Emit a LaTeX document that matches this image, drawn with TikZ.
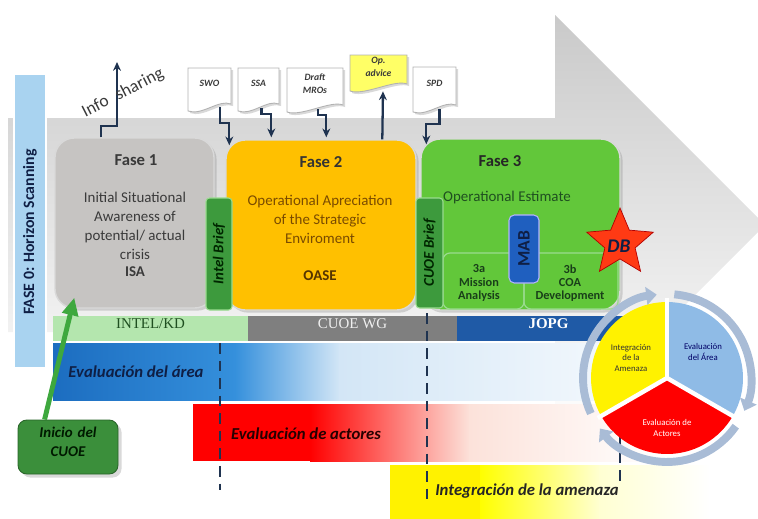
\documentclass[tikz,border=0pt]{standalone}
\usepackage{fontspec}
\setmainfont{Carlito}
\newfontfamily\serifx{Liberation Serif}
\usetikzlibrary{arrows.meta,shapes.geometric,shadows,calc,fit}
\definecolor{navyline}{HTML}{1F3350}
\definecolor{horizon}{HTML}{A9D3F0}
\definecolor{fone}{HTML}{C6C4C2}
\definecolor{ftwo}{HTML}{FFC000}
\definecolor{fthree}{HTML}{62C73A}
\definecolor{briefgreen}{HTML}{3D9A3D}
\definecolor{briefedge}{HTML}{9ADB8F}
\definecolor{mabblue}{HTML}{1F5FBF}
\definecolor{intelkd}{HTML}{B4E6AE}
\definecolor{cuoewg}{HTML}{7F7F7F}
\definecolor{jopg}{HTML}{1F5AA6}
\definecolor{areaA}{HTML}{1C6DC0}
\definecolor{areaB}{HTML}{3590DC}
\definecolor{areaC}{HTML}{D3E6F6}
\definecolor{redC}{HTML}{FCE2DA}
\definecolor{yelC}{HTML}{FFFFD2}
\definecolor{ringc}{HTML}{A9BCD6}
\definecolor{secblue}{HTML}{8FBBE6}
\definecolor{txtgray}{HTML}{3A3A3A}
\definecolor{txtbrown}{HTML}{7A4B00}
\definecolor{txtgreen}{HTML}{1F4F20}
\definecolor{darknavy}{HTML}{0F1F45}
\definecolor{iniciogreen}{HTML}{3B8F3B}
\definecolor{arrowgreen}{HTML}{3EA83E}
\definecolor{opyellow}{HTML}{FFFF66}
\definecolor{starred}{HTML}{FF3A14}
\newcommand\fsz[2]{\fontsize{#1}{#2}\selectfont}
\newcommand\docshape[7]{%
  \draw[docline, fill=#6] (#2,#3) -- (#4,#3) -- (#4,{#5-8}) .. controls ({#4-12},{#5-13}) and ({#2+14},{#5+4}) .. (#2,{#5-1}) -- cycle;
  \node[fit={(#2,#3) (#4,{#5-7})}, inner sep=0pt, align=center, text=txtgray, font=\bfseries\itshape\fsz{5.5}{7}] (#1) {#7};
}
\begin{document}
\begin{tikzpicture}[x=0.02cm,y=-0.02cm,
  conn/.style={draw=navyline, line width=1.3pt, -{Stealth[length=5pt,width=4.5pt]}},
  dashln/.style={draw=navyline, line width=1.3pt, dash pattern=on 6pt off 4pt},
  fasebox/.style={inner sep=0pt, rounded corners=11pt, draw=white!85!black, line width=0.8pt,
     drop shadow={shadow xshift=1.5pt, shadow yshift=-1.5pt, opacity=0.3}},
  brief/.style={inner sep=0pt, rounded corners=2pt, fill=briefgreen, draw=briefedge, line width=0.6pt},
  band/.style={inner sep=0pt},
  docline/.style={draw=gray!60, line width=0.5pt, drop shadow={shadow xshift=1.2pt, shadow yshift=-1.2pt, opacity=0.3}},
  ringarrow/.style={draw=ringc, line width=4.5pt, -{Triangle[length=6pt,width=10pt]}},
  lbl/.style={inner sep=0pt, align=center}
]
\useasboundingbox (0,0) rectangle (758,518);
\begin{scope}
\clip (0,0) rectangle (758,518);
% big grey arrow
\shade[top color=gray!42, middle color=gray!75, bottom color=white]
  (8,118) -- (555,118) -- (555,15) -- (765,225) -- (555,435) -- (555,332) -- (8,332) -- cycle;

% horizon scanning
\node[fit={(14,74) (46,368)}, inner sep=0pt, fill=horizon, draw=white, line width=0.6pt] (hor) {};
\node[rotate=90, font=\bfseries\fsz{9}{11}, text=darknavy] at (30,232) {FASE 0: Horizon Scanning};

% bands
\node[fit={(53,316) (248,341)}, band, fill=intelkd, font=\serifx\fsz{8.5}{10}, text=txtgreen] (ikd) {INTEL/KD};
\node[fit={(248,316) (457,341)}, band, fill=cuoewg, font=\serifx\fsz{8.5}{10}, text=gray!12] (cwg) {CUOE WG};
\node[fit={(457,316) (640,341)}, band, fill=jopg, font=\serifx\bfseries\fsz{8.5}{10}, text=white] (jopg) {JOPG};

% Evaluacion del area
\shade[left color=areaA, right color=areaB] (53,343) rectangle (236,400);
\shade[left color=areaB, right color=areaC] (235,343) rectangle (340,400);
\shade[left color=areaC, right color=white] (339,343) rectangle (720,400);
\node[fit={(53,343) (720,400)}, band] (area) {};
\node[font=\bfseries\itshape\fsz{9.5}{11}, text=darknavy] (areat) at (136,372) {Evaluación del área};

% Evaluacion de actores
\fill[red] (193,404) rectangle (311,461);
\shade[left color=red, right color=redC] (310,404) rectangle (470,461);
\shade[left color=redC, right color=white] (469,404) rectangle (660,461);
\node[fit={(193,404) (660,461)}, band] (act) {};
\node[font=\bfseries\itshape\fsz{9.5}{11}, text=black!85!red] (actt) at (306,434) {Evaluación de actores};

% Integracion de la amenaza
\fill[yellow] (390,465) rectangle (481,520);
\shade[left color=yellow, right color=yelC] (480,465) rectangle (600,520);
\shade[left color=yelC, right color=white] (599,465) rectangle (710,520);
\node[fit={(390,465) (710,518)}, band] (ame) {};
\node[font=\bfseries\itshape\fsz{9.5}{11}, text=black!85] (amet) at (527,491) {Integración de la amenaza};

% dashed lines
\coordinate (d1a) at (220,343); \coordinate (d1b) at (220,490);
\coordinate (d2a) at (427,313); \coordinate (d2b) at (427,506);
\coordinate (d3a) at (620,400); \coordinate (d3b) at (620,482);
\draw[dashln] (d1a) -- (d1b);
\draw[dashln] (d2a) -- (d2b);
\draw[dashln] (d3a) -- (d3b);

% Fase 1
\node[fit={(55,138) (214,308)}, fasebox, fill=fone] (f1) {};
\node[font=\bfseries\fsz{9.5}{11}, text=txtgray] (f1t) at (136,160) {Fase 1};
\node[lbl, font=\fsz{8.5}{10.8}, text=txtgray] (f1d) at (135,226) {Initial Situational\\Awareness of\\potential/ actual\\crisis};
\node[font=\bfseries\fsz{8.5}{10}, text=txtgray] (f1a) at (135,272) {ISA};

% Fase 2
\node[fit={(226,140) (416,310)}, fasebox, fill=ftwo] (f2) {};
\node[font=\bfseries\fsz{9.5}{11}, text=black!80] (f2t) at (321,162) {Fase 2};
\node[lbl, font=\fsz{8.5}{10.8}, text=txtbrown] (f2d) at (320,219) {Operational Apreciation\\of the Strategic\\Enviroment};
\node[font=\bfseries\fsz{8.5}{10}, text=txtbrown!70!black] (f2a) at (320,276) {OASE};

% Fase 3
\node[fit={(421,139) (620,310)}, fasebox, fill=fthree] (f3) {};
\node[font=\bfseries\fsz{9.5}{11}, text=black!85] (f3t) at (500,161) {Fase 3};
\node[font=\fsz{8.5}{10}, text=txtgreen] (f3d) at (507,198) {Operational Estimate};
\draw[draw=briefedge, line width=0.7pt, rounded corners=4pt] (443,253) rectangle (524,309);
\draw[draw=briefedge, line width=0.7pt, rounded corners=4pt] (524,253) rectangle (618,309);
\node[lbl, font=\bfseries\fsz{7}{7.6}, text=txtgreen!80!black] (s3a) at (479,283) {3a\\Mission\\Analysis};
\node[lbl, font=\bfseries\fsz{7}{7.6}, text=txtgreen!80!black] (s3b) at (570,283) {3b\\COA\\Development};
\node[fit={(509,215) (539,283)}, inner sep=0pt, rounded corners=3pt, fill=mabblue, draw=blue!30!white, line width=0.6pt] (mab) {};
\node[rotate=90, font=\bfseries\fsz{10}{12}, text=darknavy] at (mab.center) {MAB};

% briefs
\node[fit={(206,198) (232,310)}, brief] (ib) {};
\node[rotate=90, font=\bfseries\itshape\fsz{8.5}{10}, text=black!85!green] at (ib.center) {Intel Brief};
\node[fit={(416,198) (443,308)}, brief] (cb) {};
\node[rotate=90, font=\bfseries\itshape\fsz{8.5}{10}, text=black!85!green] at (cb.center) {CUOE Brief};

% DB star
\node[star, star points=5, star point ratio=2.2, minimum size=1.4cm, inner sep=0pt, fill=starred, draw=red!70!black, line width=0.4pt] (db) at (620,243) {};
\node[font=\bfseries\itshape\fsz{11}{12}, text=darknavy] at (619,246) {DB};

% documents
\docshape{swo}{188}{68}{231}{112}{white}{SWO}
\docshape{ssa}{238}{68}{279}{112}{white}{SSA}
\docshape{mro}{287}{68}{343}{113}{white}{Draft\\MROs}
\docshape{opa}{350}{55}{407}{92}{opyellow}{Op.\\advice}
\docshape{spd}{413}{67}{456}{113}{white}{SPD}

% connectors
\draw[conn] ($(swo.south)+(10.5,2)$) -- ++(0,16) -| ($(f2.north west)+(4,6)$);
\draw[conn] ($(ssa.south)+(3,3)$) -- ++(0,6) -| ($(f2.north west)+(46,-2)$);
\draw[conn] ($(mro.south)+(3,3)$) -- ++(0,6) -| ($(f2.north west)+(101,-2)$);
\draw[conn] ($(f2.north west)+(157,0)$) -- ($(opa.south)+(4.5,6)$);
\draw[conn] ($(spd.south)+(5,3)$) -- ++(0,15) -| ($(f3.north west)+(6,6)$);
\coordinate (infotip) at (117,62);
\draw[conn] ($(f1.north west)+(47,0)$) -- ++(0,-11) -| (infotip);
\node[rotate=27, font=\fsz{10}{12}, text=txtgray] (info) at (123,93) {Info\hspace{3pt} sharing};

% cycle
\node[circle, minimum size=3.4cm, inner sep=0pt] (cyc) at (667,378) {};
\fill[yellow] (cyc.center) -- ++(90:1.52cm) arc[start angle=90, end angle=210, radius=1.52cm] -- cycle;
\fill[secblue] (cyc.center) -- ++(-30:1.52cm) arc[start angle=-30, end angle=90, radius=1.52cm] -- cycle;
\fill[red] (cyc.center) -- ++(210:1.52cm) arc[start angle=210, end angle=330, radius=1.52cm] -- cycle;
\draw[white, line width=2.5pt] (cyc.center) -- ++(90:1.6cm);
\draw[white, line width=2.5pt] (cyc.center) -- ++(210:1.6cm);
\draw[white, line width=2.5pt] (cyc.center) -- ++(330:1.6cm);
\draw[ringarrow] ($(cyc.center)+(205:1.68cm)$) arc[start angle=205, end angle=97, radius=1.68cm];
\draw[ringarrow] ($(cyc.center)+(85:1.68cm)$) arc[start angle=85, end angle=-23, radius=1.68cm];
\draw[ringarrow] ($(cyc.center)+(-35:1.68cm)$) arc[start angle=-35, end angle=-143, radius=1.68cm];
\node[lbl, font=\fsz{5}{5.8}, text=black!80] (cy1) at (631,358) {Integración\\de la\\Amenaza};
\node[lbl, font=\fsz{5}{5.8}, text=blue!40!black] (cy2) at (703,352) {Evaluación\\del Área};
\node[lbl, font=\fsz{5}{6.8}, text=white] (cy3) at (667,428) {Evaluación de\\Actores};

% Inicio del CUOE
\node[fit={(18,420) (118,474)}, inner sep=0pt, rounded corners=5pt, fill=iniciogreen, draw=iniciogreen!70!black, line width=0.5pt,
   drop shadow={shadow xshift=2pt, shadow yshift=-2pt, opacity=0.3}, align=center, font=\bfseries\itshape\fsz{8.5}{11}, text=black!90!green] (ini) {Inicio del\\CUOE};
\draw[draw=arrowgreen, line width=2.8pt, -{Triangle[length=10pt,width=9pt]}] ($(ini.north west)+(27,0)$) -- ($(f1.south west)+(20,-11)$);
\end{scope}
\end{tikzpicture}
\end{document}
